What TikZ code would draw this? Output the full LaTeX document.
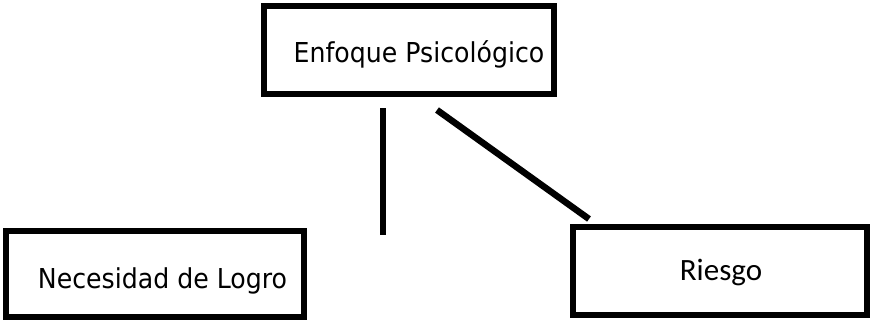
\documentclass[tikz,border=0pt]{standalone}
\usepackage{fontspec}
\setmainfont{DejaVu Sans}[FakeStretch=0.92]
\newfontfamily\riesgofont{Carlito}
\usetikzlibrary{positioning}
\tikzset{every path/.style={black,line width=6.5pt}, concepto/.style={draw, line width=6pt, inner sep=0pt, text height=20pt, text depth=0pt, font=\fontsize{27.4}{32}\selectfont}}

\begin{document}
\begin{tikzpicture}[x=1pt,y=-1pt]
   \useasboundingbox (0,0) rectangle (874,322);
   \node[concepto, minimum width=290pt, minimum height=88pt, text height=24pt] (psico) at (409,50) {\hspace*{20pt}Enfoque Psicológico};
   \node[concepto, minimum width=298pt, minimum height=86pt, text height=28pt] (logro) at (155,274) {\hspace*{15pt}Necesidad de Logro};
   \node[concepto, minimum width=294pt, minimum height=88pt, text height=18pt, font=\riesgofont\fontsize{31}{36}\selectfont] (riesgo) at (720,271) {\hspace*{2pt}Riesgo};
   \coordinate (vfin) at (383,235);
   \draw ([xshift=-26pt,yshift=-11pt]psico.south) -- (vfin);
   \draw ([xshift=28pt,yshift=-13pt]psico.south) -- ([xshift=19pt,yshift=5pt]riesgo.north west);
  \end{tikzpicture}
\end{document}
